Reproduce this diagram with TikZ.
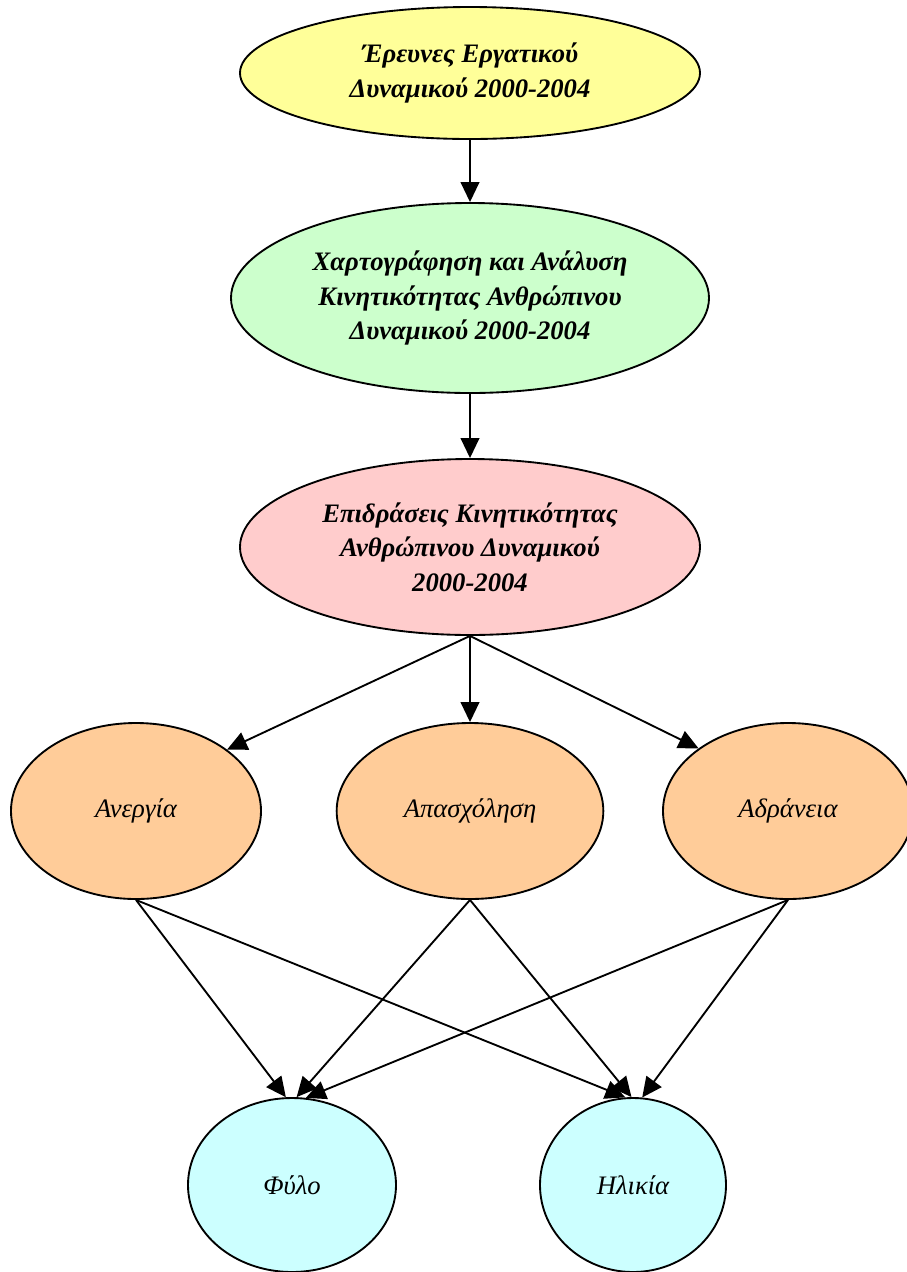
\documentclass[tikz,border=0pt]{standalone}
\usepackage{fontspec}
\setmainfont{Liberation Serif}
\definecolor{evYellow}{HTML}{FFFF99}
\definecolor{evGreen}{HTML}{CCFFCC}
\definecolor{evPink}{HTML}{FFCCCC}
\definecolor{evOrange}{HTML}{FFCC99}
\definecolor{evCyan}{HTML}{CCFFFF}
\usetikzlibrary{arrows.meta,shapes.geometric}

\begin{document}
\begin{tikzpicture}[x=0.75pt, y=-0.75pt,
  stage/.style={ellipse, draw, line width=1.4pt, inner sep=0pt, align=center,
    font=\fontsize{20}{26}\selectfont\bfseries\itshape},
  factor/.style={ellipse, draw, line width=1.4pt, inner sep=0pt, align=center,
    fill=evOrange, minimum width=187.5pt, minimum height=132pt,
    font=\fontsize{20}{24}\selectfont\itshape},
  group/.style={ellipse, draw, line width=1.4pt, inner sep=0pt, align=center,
    fill=evCyan, minimum height=130.5pt, font=\fontsize{20}{24}\selectfont\itshape},
  arr/.style={-{Triangle[length=15pt, width=14pt]}, line width=1.4pt}
]
  \useasboundingbox (0,0) rectangle (907,1272);

  \node[stage, fill=evYellow, minimum width=345pt, minimum height=99pt] (surveys) at (470,73) {
    Έρευνες Εργατικού\\Δυναμικού 2000-2004
  };
  \node[stage, fill=evGreen, minimum width=358.5pt, minimum height=142.5pt] (mapping) at (470,298) {
    Χαρτογράφηση και Ανάλυση\\Κινητικότητας Ανθρώπινου\\Δυναμικού 2000-2004
  };
  \node[stage, fill=evPink, minimum width=345pt, minimum height=132pt] (effects) at (470,547) {
    Επιδράσεις Κινητικότητας\\Ανθρώπινου Δυναμικού\\2000-2004
  };

  \node[factor] (unemp) at (136,811) {Ανεργία};
  \node[factor, minimum width=200pt] (employ) at (470,811) {Απασχόληση};
  \node[factor] (inact) at (788,811) {Αδράνεια};

  \node[group, minimum width=156pt] (sex) at (292,1185) {Φύλο};
  \node[group, minimum width=139.5pt] (age) at (633,1185) {Ηλικία};

  \draw[arr] (surveys) -- (mapping);
  \draw[arr] (mapping) -- (effects);
  \draw[arr] (effects.south) -- (unemp.34);
  \draw[arr] (effects.south) -- (employ.north);
  \draw[arr] (effects.south) -- (inact.145);

  \draw[arr] (unemp.south) -- (sex.94);
  \draw[arr] (unemp.south) -- (age.95);
  \draw[arr] (employ.south) -- (sex.87);
  \draw[arr] (employ.south) -- (age.91);
  \draw[arr] (inact.south) -- (sex.81);
  \draw[arr] (inact.south) -- (age.84);
\end{tikzpicture}
\end{document}
